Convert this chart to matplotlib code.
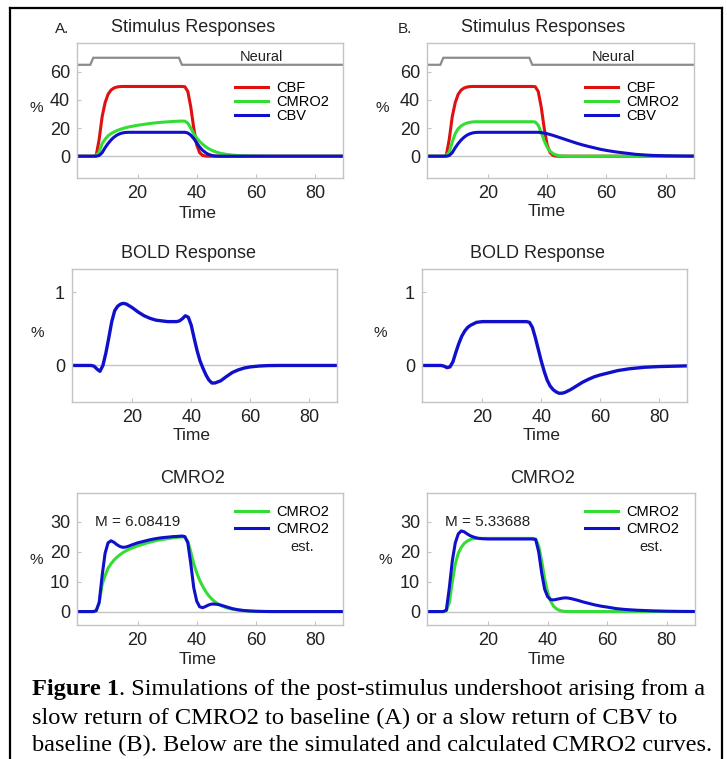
import matplotlib
matplotlib.use('Agg')
import matplotlib.pyplot as plt
from matplotlib.lines import Line2D

plt.rcParams['font.family'] = ['Liberation Sans', 'DejaVu Sans']

# ---- data (time in s, responses in %) ----
t = [0, 5, 6, 7, 8, 9, 10, 11, 12, 13, 14, 15, 16, 17, 18,
     20, 22, 24, 26, 28, 30, 32, 34, 35, 36,
     37, 38, 39, 40, 41, 42, 43, 44, 45, 46, 47, 48,
     50, 52, 54, 56, 58, 60, 63, 66, 70, 75, 80, 85, 90]

cbf = [0, 0, 0.5, 12, 28, 38, 44, 47, 48.5, 49.2, 49.5, 49.6, 49.6, 49.6, 49.6,
       49.6, 49.6, 49.6, 49.6, 49.6, 49.6, 49.6, 49.6, 49.6, 49.4,
       46, 35, 20, 8, 2.5, 0.6, 0.1, 0, 0, 0, 0, 0,
       0, 0, 0, 0, 0, 0, 0, 0, 0, 0, 0, 0, 0]

cmro2_a = [0, 0, 0.3, 3, 9, 12, 14.5, 16, 17.2, 18.2, 19, 19.7, 20.3, 20.8, 21.2,
           22, 22.6, 23.2, 23.7, 24.1, 24.4, 24.7, 24.9, 25, 24.9,
           23.5, 20, 16, 13, 10.5, 8.5, 6.8, 5.4, 4.3, 3.4, 2.7, 2.1,
           1.3, 0.8, 0.5, 0.3, 0.15, 0.08, 0.03, 0, 0, 0, 0, 0, 0]

cbv_a = [0, 0, 0, 0.5, 2.5, 6, 9, 11.5, 13.5, 15, 16, 16.6, 16.9, 17, 17,
         17, 17, 17, 17, 17, 17, 17, 17, 17, 17,
         16.5, 15, 12.5, 9.5, 6.5, 4.2, 2.5, 1.3, 0.6, 0.2, 0.05, 0,
         0, 0, 0, 0, 0, 0, 0, 0, 0, 0, 0, 0, 0]

cmro2_b = [0, 0, 0.3, 3, 10, 16, 19.5, 21.5, 22.8, 23.6, 24.1, 24.4, 24.5, 24.5, 24.5,
           24.5, 24.5, 24.5, 24.5, 24.5, 24.5, 24.5, 24.5, 24.5, 24.3,
           22, 17, 11, 6.5, 3.5, 1.8, 0.9, 0.4, 0.15, 0.05, 0, 0,
           0, 0, 0, 0, 0, 0, 0, 0, 0, 0, 0, 0, 0]

cbv_b = [0, 0, 0, 0.5, 2.5, 6, 9, 11.5, 13.5, 15, 16, 16.6, 16.9, 17, 17,
         17, 17, 17, 17, 17, 17, 17, 17, 17, 17,
         17, 16.8, 16.4, 16, 15.4, 14.8, 14.1, 13.4, 12.7, 12, 11.3, 10.6,
         9.2, 8, 6.9, 5.9, 4.9, 4.1, 3.1, 2.3, 1.3, 0.6, 0.3, 0.15, 0.05]

bold_a = [0, 0, 0, -0.01, -0.05, -0.08, 0.0, 0.17, 0.38, 0.6, 0.75, 0.81, 0.84, 0.85, 0.84,
          0.79, 0.73, 0.68, 0.645, 0.62, 0.61, 0.6, 0.6, 0.6, 0.61,
          0.64, 0.68, 0.66, 0.55, 0.37, 0.2, 0.06, -0.04, -0.13, -0.2, -0.24, -0.24,
          -0.21, -0.15, -0.095, -0.06, -0.035, -0.02, -0.008, -0.002, 0, 0, 0, 0, 0]

bold_b = [0, 0, 0, -0.01, -0.03, -0.02, 0.05, 0.18, 0.3, 0.4, 0.47, 0.52, 0.55, 0.57, 0.59,
          0.6, 0.6, 0.6, 0.6, 0.6, 0.6, 0.6, 0.6, 0.6, 0.59,
          0.52, 0.38, 0.22, 0.06, -0.08, -0.2, -0.28, -0.33, -0.36, -0.38, -0.38, -0.37,
          -0.33, -0.28, -0.23, -0.19, -0.155, -0.13, -0.1, -0.07, -0.045, -0.025, -0.015, -0.01, -0.005]

est_a = [0, 0, 0.3, 3, 12, 19.5, 23, 23.7, 23.2, 22.4, 21.8, 21.5, 21.6, 21.9, 22.3,
         23, 23.5, 24, 24.4, 24.7, 24.9, 25.1, 25.2, 25.3, 25.1,
         23, 16, 8, 3.5, 1.6, 1.3, 1.7, 2.2, 2.5, 2.5, 2.4, 2.2,
         1.6, 1.0, 0.6, 0.35, 0.2, 0.1, 0.03, 0, 0, 0, 0, 0, 0]

est_b = [0, 0, 0.5, 8, 17, 23, 26, 27, 26.7, 26, 25.4, 25, 24.7, 24.5, 24.4,
         24.3, 24.3, 24.3, 24.3, 24.3, 24.3, 24.3, 24.3, 24.3, 24.1,
         20, 13, 7.5, 5, 4, 3.9, 4.1, 4.3, 4.5, 4.6, 4.5, 4.3,
         3.8, 3.2, 2.7, 2.2, 1.8, 1.5, 1.0, 0.7, 0.45, 0.25, 0.12, 0.05, 0.02]

neural_t = [0, 4, 5, 34, 35, 90]
neural_y = [65, 65, 70, 70, 65, 65]

m_values = ['6.08419', '5.33688']

RED, GREEN, BLUE, GREY = '#e01010', '#33dd33', '#1010cc', '#8c8c8c'
W, H = 727, 759

fig = plt.figure(figsize=(W / 100, H / 100), dpi=100)


def fx(x):
    return x / W


def fy(y):
    return 1 - y / H


def add_ax(x0, y0, x1, y1, ylim, yticks):
    ax = fig.add_axes([fx(x0), fy(y1), (x1 - x0) / W, (y1 - y0) / H])
    ax.set_xlim(-0.5, 89.5)
    ax.set_ylim(*ylim)
    ax.set_xticks([20, 40, 60, 80])
    ax.set_yticks(yticks)
    for s in ax.spines.values():
        s.set_color('#c4c4c4')
        s.set_linewidth(1.0)
    ax.tick_params(direction='in', length=3, width=0.8, color='#c4c4c4',
                   labelsize=13, labelcolor='#222222', pad=5)
    ax.axhline(0, color='#c4c4c4', lw=1.0, zorder=1)
    return ax


lw = 2.2
leg_kw = dict(loc='upper left', frameon=False, fontsize=10.5, handlelength=2.25,
              handletextpad=0.6, borderpad=0, borderaxespad=0)

# --- top row: stimulus responses ---
for (x0, x1), cmro2, cbv, tx, hx in [((77, 343), cmro2_a, cbv_a, 62, 235),
                                     ((427, 694), cmro2_b, cbv_b, 62.5, 585)]:
    ax = add_ax(x0, 43, x1, 178, (-15.5, 80.5), [0, 20, 40, 60])
    ax.plot(neural_t, neural_y, color=GREY, lw=1.6, solid_joinstyle='miter')
    ax.text(tx, 65.8, 'Neural', ha='center', va='bottom', fontsize=10.5, color='#222222')
    l1, = ax.plot(t, cbf, color=RED, lw=lw, label='CBF')
    l2, = ax.plot(t, cmro2, color=GREEN, lw=lw, label='CMRO2')
    l3, = ax.plot(t, cbv, color=BLUE, lw=lw, label='CBV')
    ax.legend(handles=[l1, l2, l3], bbox_to_anchor=((hx - x0) / (x1 - x0), 0.72),
              labelspacing=0.0, **leg_kw)

# --- middle row: BOLD ---
for (x0, x1), bold in [((72, 337), bold_a), ((422, 687), bold_b)]:
    ax = add_ax(x0, 269, x1, 402, (-0.5, 1.32), [0, 1])
    ax.plot(t, bold, color=BLUE, lw=2.4)

# --- bottom row: CMRO2 vs estimate ---
for (x0, x1), cmro2, est, m, hx, ex in [((77, 343), cmro2_a, est_a, m_values[0], 235, 75.7),
                                         ((427, 695), cmro2_b, est_b, m_values[1], 585, 74.7)]:
    ax = add_ax(x0, 493, x1, 625, (-4.5, 39.7), [0, 10, 20, 30])
    g, = ax.plot(t, cmro2, color=GREEN, lw=lw, label='CMRO2')
    b, = ax.plot(t, est, color=BLUE, lw=lw, label='CMRO2')
    ax.text(5.5, 30, 'M = ' + m, ha='left', va='center', fontsize=11, color='#222222')
    ax.text(ex, 21.7, 'est.', ha='center', va='center', fontsize=10.5, color='#222222')
    ax.legend(handles=[g, b], bbox_to_anchor=((hx - x0) / (x1 - x0), 0.908),
              labelspacing=0.17, **leg_kw)

# --- titles and labels ---
txt = dict(color='#222222', ha='center', va='center')
for x, y, s in [(193, 28, 'Stimulus Responses'), (543, 28, 'Stimulus Responses'),
                (188, 254, 'BOLD Response'), (538, 254, 'BOLD Response'),
                (193, 479, 'CMRO2'), (543, 479, 'CMRO2')]:
    fig.text(fx(x), fy(y), s, fontsize=13, **txt)
fig.text(fx(62), fy(29), 'A.', fontsize=11, **txt)
fig.text(fx(405), fy(29), 'B.', fontsize=11, **txt)
for x, y in [(36, 108), (382, 108), (37, 333), (380, 333), (36, 560), (385, 560)]:
    fig.text(fx(x), fy(y), '%', fontsize=11, **txt)
for x, y in [(198, 213), (547, 212), (192, 435), (542, 435), (198, 660), (547, 660)]:
    fig.text(fx(x), fy(y), 'Time', fontsize=12.5, **txt)

# --- caption ---
cap = dict(family='Liberation Serif', fontsize=17.6, va='center', ha='left', color='black')
fig.canvas.draw()
r = fig.canvas.get_renderer()
head = fig.text(fx(32), fy(690), 'Figure 1', weight='bold', **cap)
bb = head.get_window_extent(renderer=r)
fig.text(bb.x1 / W, fy(690), '. Simulations of the post-stimulus undershoot arising from a', **cap)
fig.text(fx(32), fy(718), 'slow return of CMRO2 to baseline (A) or a slow return of CBV to', **cap)
fig.text(fx(32), fy(745), 'baseline (B). Below are the simulated and calculated CMRO2 curves.', **cap)

# --- outer frame ---
for xs, ys in [([10, 10], [8, 759]), ([10, 722], [8, 8]), ([722, 722], [8, 759])]:
    fig.add_artist(Line2D([fx(v) for v in xs], [fy(v) for v in ys], color='black', lw=1.6))

fig.savefig('out.png', dpi=100)
